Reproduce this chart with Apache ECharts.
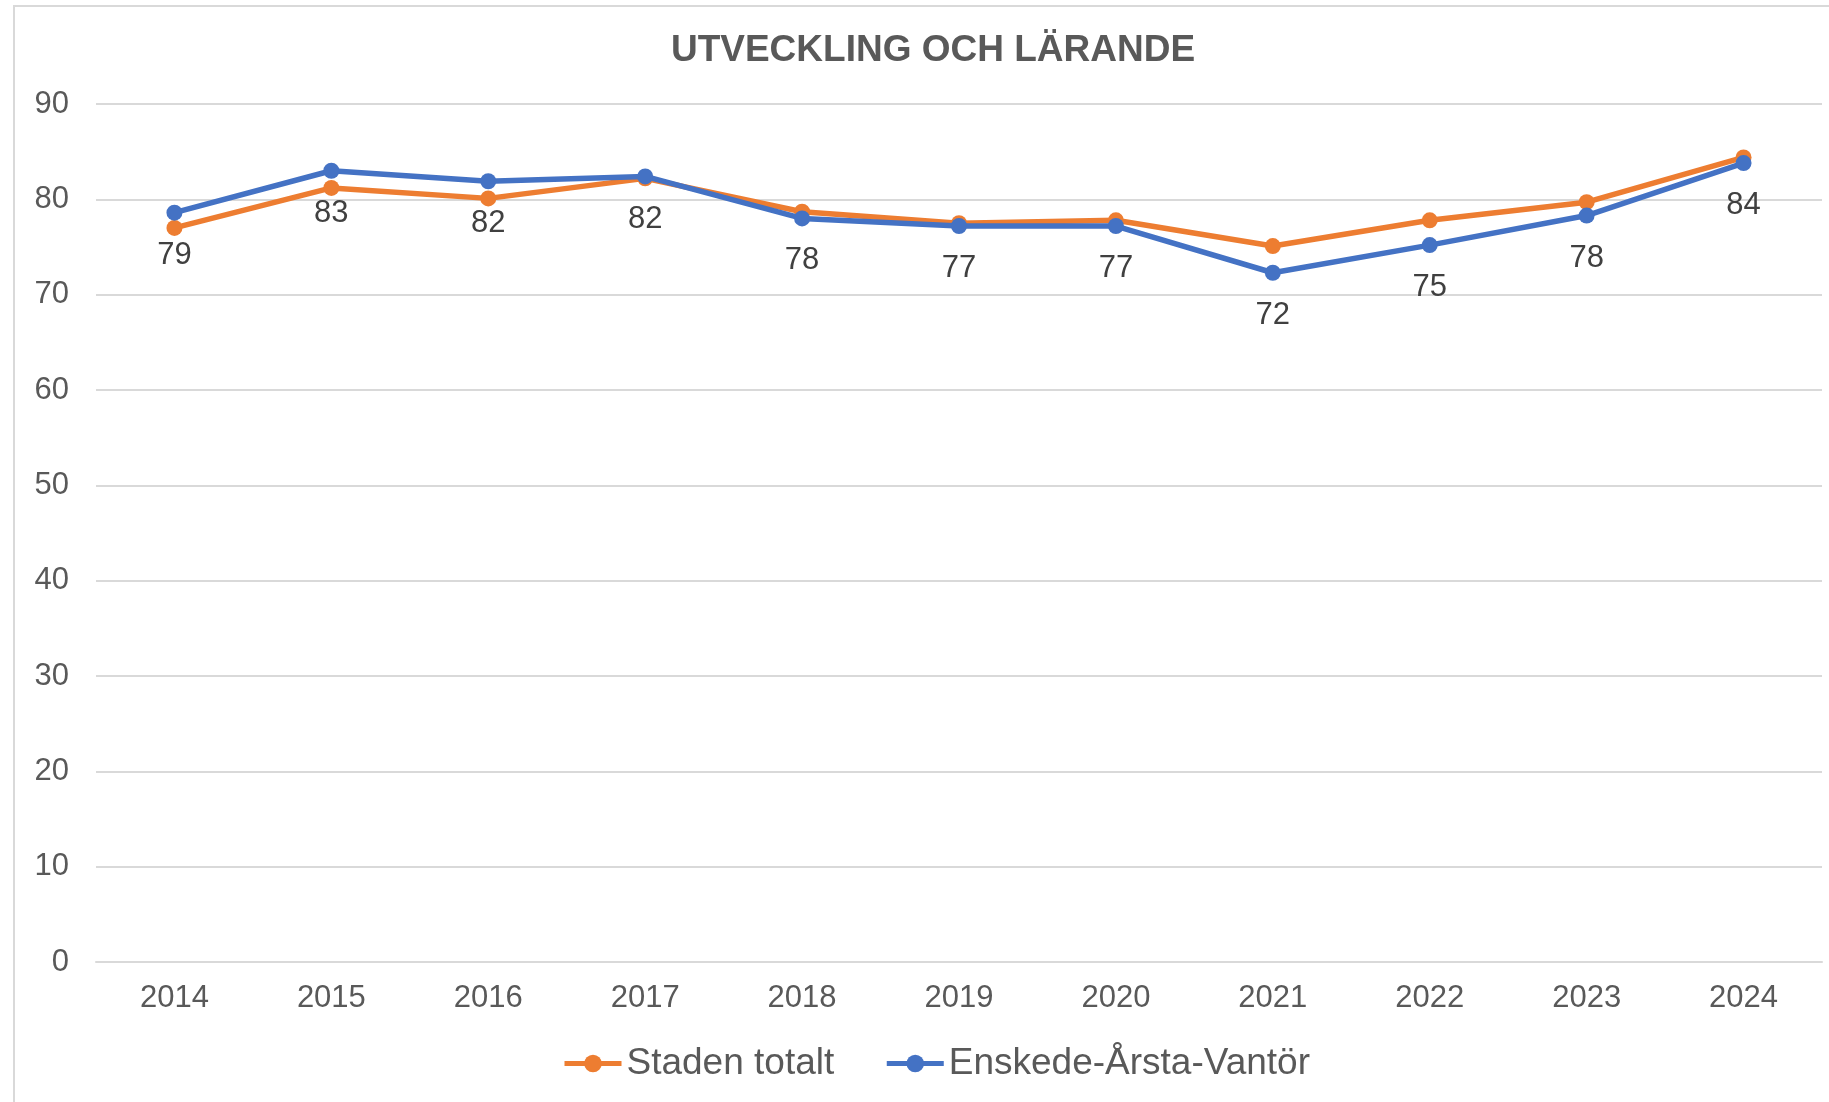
<!DOCTYPE html>
<html>
<head>
<meta charset="utf-8">
<script src="https://cdn.jsdelivr.net/npm/echarts@6/dist/echarts.min.js"></script>
<style>
html,body{margin:0;padding:0;background:#fff;}
#c{width:1829px;height:1102px;}
</style>
</head>
<body>
<div id="c"></div>
<script>
const titleText = 'UTVECKLING OCH LÄRANDE';
const years = ['2014','2015','2016','2017','2018','2019','2020','2021','2022','2023','2024'];
const stadenName = 'Staden totalt';
const stadenValues = [77.0, 81.2, 80.1, 82.2, 78.7, 77.5, 77.8, 75.1, 77.8, 79.7, 84.4];
const enskedeName = 'Enskede-Årsta-Vantör';
const enskedeValues = [78.6, 83.0, 81.9, 82.4, 78.0, 77.2, 77.2, 72.3, 75.2, 78.3, 83.8];
const yTicks = [0, 10, 20, 30, 40, 50, 60, 70, 80, 90];

const chart = echarts.init(document.getElementById('c'), null, {renderer: 'canvas'});
const font = 'Arial, "Liberation Sans", sans-serif';
chart.setOption({
  animation: false,
  backgroundColor: '#ffffff',
  graphic: [{
    type: 'rect',
    shape: {x: 14, y: 6, width: 1900, height: 1200},
    style: {fill: 'none', stroke: '#d9d9d9', lineWidth: 2},
    silent: true, z: -10
  }],
  title: {
    text: titleText,
    left: 928, top: 27, textAlign: 'center',
    textStyle: {fontFamily: font, fontSize: 37, fontWeight: 'bold', color: '#595959'}
  },
  legend: {
    left: 557, top: 1040,
    itemWidth: 57, itemHeight: 22, itemGap: 50,
    lineStyle: {width: 5},
    textStyle: {fontFamily: font, fontSize: 37, color: '#595959'},
    data: [stadenName, enskedeName]
  },
  grid: {left: 96, right: 7, top: 104, bottom: 140, containLabel: false},
  xAxis: {
    type: 'category',
    data: years,
    boundaryGap: true,
    axisLine: {show: true, lineStyle: {color: '#d9d9d9', width: 2}},
    axisTick: {show: false},
    axisLabel: {fontFamily: font, fontSize: 31, color: '#595959', margin: 21}
  },
  yAxis: {
    type: 'value',
    min: yTicks[0], max: yTicks[yTicks.length - 1], interval: 10,
    axisLine: {show: false},
    axisTick: {show: false},
    splitLine: {lineStyle: {color: '#d9d9d9', width: 2}},
    axisLabel: {fontFamily: font, fontSize: 31, color: '#595959', margin: 27}
  },
  series: [
    {
      name: stadenName, type: 'line', data: stadenValues,
      symbol: 'circle', symbolSize: 16,
      itemStyle: {color: '#ED7D31'},
      lineStyle: {color: '#ED7D31', width: 5.5},
      z: 2
    },
    {
      name: enskedeName, type: 'line', data: enskedeValues,
      symbol: 'circle', symbolSize: 16,
      itemStyle: {color: '#4472C4'},
      lineStyle: {color: '#4472C4', width: 5.5},
      label: {
        show: true, position: 'bottom', distance: 19,
        fontFamily: font, fontSize: 31, color: '#404040',
        formatter: p => Math.round(p.value)
      },
      z: 3
    }
  ]
});
</script>
</body>
</html>
